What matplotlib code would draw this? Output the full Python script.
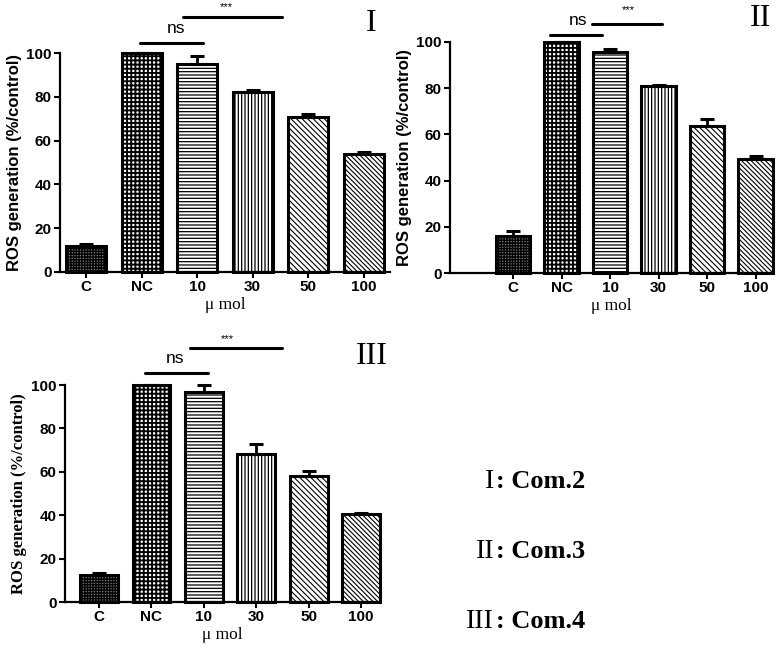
import matplotlib
matplotlib.use("Agg")
import matplotlib.pyplot as plt
import numpy as np

# categories shared by all three panels
categories = ["C", "NC", "10", "30", "50", "100"]

# ROS generation (% of control) for each compound
ros_com2 = [12, 100, 95, 82, 71, 54]
err_com2 = [1.0, 0, 3.5, 1.0, 1.0, 1.0]
ros_com3 = [16, 100, 95.5, 81, 63.5, 49.5]
err_com3 = [2.0, 0, 1.5, 0.5, 3.0, 1.0]
ros_com4 = [12.5, 100, 97, 68, 58, 40.5]
err_com4 = [1.0, 0, 3.0, 5.0, 2.5, 0.5]

panel_names = ["I", "II", "III"]
legend_nums = ["I", "II", "III"]
legend_names = [": Com.2", ": Com.3", ": Com.4"]

# bar fills: (facecolor, hatch, hatch linewidth)
fills = [
    ("#7a7a7a", "++++++", 1.0),
    ("white", "++++", 1.35),
    ("white", "-----", 0.9),
    ("white", "|||||", 0.9),
    ("white", "\\\\\\\\\\\\", 0.8),
    ("white", "\\\\\\\\\\\\\\", 0.8),
]

SANS = "Liberation Sans"
SERIF = "Liberation Serif"

fig = plt.figure(figsize=(7.78, 6.56), dpi=100)

panels = [
    dict(rect=[0.0771, 0.5854, 0.4239, 0.3338], vals=ros_com2, errs=err_com2,
         xlim=(-0.47, 5.47), yfam=SANS,
         ns_line=(0.97, 2.1, 104.6), star_line=(1.74, 3.53, 116.4),
         ns_txt=(1.62, 111), star_txt=(2.52, 121), num=(5.14, 113.5)),
    dict(rect=[0.5784, 0.5838, 0.4139, 0.3522], vals=ros_com3, errs=err_com3,
         xlim=(-1.3, 5.34), yfam=SANS,
         ns_line=(0.76, 1.84, 103), star_line=(1.63, 3.07, 107.8),
         ns_txt=(1.34, 109.5), star_txt=(2.37, 114), num=(5.1, 110)),
    dict(rect=[0.0835, 0.0823, 0.4049, 0.3308], vals=ros_com4, errs=err_com4,
         xlim=(-0.65, 5.36), yfam=SERIF,
         ns_line=(0.88, 2.08, 105.5), star_line=(1.73, 3.5, 117),
         ns_txt=(1.45, 112), star_txt=(2.44, 121), num=(5.2, 113)),
]

x = np.arange(len(categories))
for name, p in zip(panel_names, panels):
    ax = fig.add_axes(p["rect"])
    for xi, v, (fc, h, hlw) in zip(x, p["vals"], fills):
        with plt.rc_context({"hatch.linewidth": hlw}):
            b = ax.bar(xi, v, width=0.72, facecolor=fc, hatch=h,
                       edgecolor="black", linewidth=2.2, clip_on=False,
                       zorder=2)[0]
        if hasattr(b, "set_hatch_linewidth"):
            b.set_hatch_linewidth(hlw)
    lower = [0] * len(p["errs"])
    ax.errorbar(x, p["vals"], yerr=[lower, p["errs"]], fmt="none",
                ecolor="black", elinewidth=2, capsize=5, capthick=2.2,
                clip_on=False, zorder=3)

    ax.set_xlim(*p["xlim"])
    ax.set_ylim(0, 100)
    ax.set_yticks([0, 20, 40, 60, 80, 100])
    ax.set_xticks(x)
    ax.set_xticklabels(categories)
    for s in ["top", "right"]:
        ax.spines[s].set_visible(False)
    for s in ["left", "bottom"]:
        ax.spines[s].set_linewidth(1.6)
    ax.tick_params(axis="both", direction="out", length=4, width=1.5,
                   labelsize=11, pad=2)
    for lab in ax.get_xticklabels() + ax.get_yticklabels():
        lab.set_fontfamily(SANS)
        lab.set_fontweight("bold")

    ax.set_ylabel("ROS generation (%/control)", family=p["yfam"],
                  fontweight="bold", fontsize=12, labelpad=3)
    ax.set_xlabel("\u03bc mol", family=SERIF, fontsize=12.5, labelpad=2)

    # significance brackets
    x0, x1, y = p["ns_line"]
    ax.plot([x0, x1], [y, y], color="black", lw=2.2, clip_on=False,
            solid_capstyle="round")
    x0, x1, y = p["star_line"]
    ax.plot([x0, x1], [y, y], color="black", lw=2.2, clip_on=False,
            solid_capstyle="round")
    ax.text(*p["ns_txt"], "ns", family=SANS, fontsize=12.5, ha="center",
            va="center")
    ax.text(*p["star_txt"], "***", family=SANS, fontsize=8, ha="center",
            va="center")
    ax.text(*p["num"], name, family=SERIF, fontsize=23, ha="center",
            va="center")

# compound legend
for i, (num, nm) in enumerate(zip(legend_nums, legend_names)):
    yy = 1 - (482 + 70 * i) / 656
    fig.text(494 / 778, yy, num, family=SERIF, fontsize=20,
             ha="right", va="center")
    fig.text(496 / 778, yy, nm, family=SERIF, fontweight="bold",
             fontsize=19, ha="left", va="center")

fig.savefig("out.png", dpi=100)
